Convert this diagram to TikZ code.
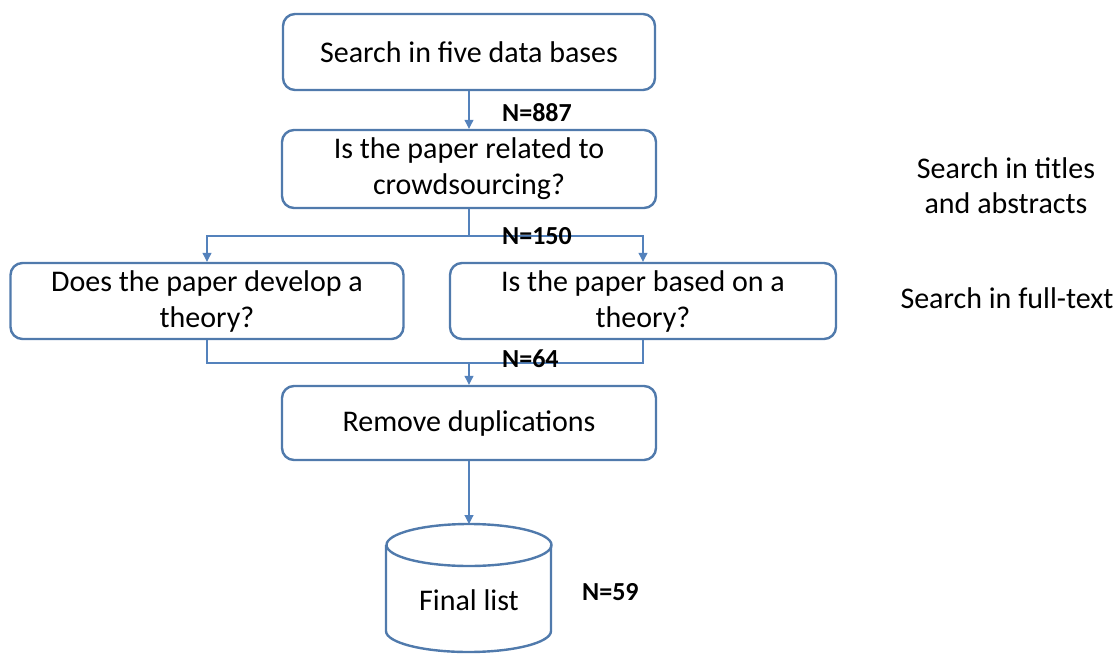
\documentclass[tikz,border=0pt]{standalone}
\usepackage{fontspec}
\setmainfont{Carlito}
\usetikzlibrary{arrows.meta}
\definecolor{boxline}{RGB}{80,122,172}
\definecolor{linkline}{RGB}{84,130,188}
\tikzset{
  x=1pt, y=-1pt,
  stepbox/.style={draw=boxline, line width=2.4pt, rounded corners=12pt,
    minimum height=76pt, align=center, inner sep=0pt,
    font=\fontsize{30}{36}\selectfont},
  link/.style={draw=linkline, line width=1.1pt},
  linkarrow/.style={link, -{Triangle[width=9pt,length=9pt]}},
  count/.style={anchor=base west, inner sep=0pt, font=\fontsize{26}{30}\selectfont\bfseries},
  sidenote/.style={align=center, inner sep=0pt, font=\fontsize{30}{35}\selectfont}
}
\begin{document}
\begin{tikzpicture}
\useasboundingbox (0,0) rectangle (1119,656);

% process steps
\node[stepbox, minimum width=372pt] (b1) at (469,52) {Search in five data bases};
\node[stepbox, minimum width=374pt, minimum height=78pt] (b2) at (469,169) {Is the paper related to\\crowdsourcing?};
\node[stepbox, minimum width=393pt] (b3) at (207,301) {Does the paper develop a\\theory?};
\node[stepbox, minimum width=386pt] (b4) at (643,301) {Is the paper based on a\\theory?};
\node[stepbox, minimum width=374pt, minimum height=74pt] (b5) at (469,423) {Remove duplications};

% final list drawn as a database cylinder
\coordinate (fintop) at (469,524);
\draw[boxline, line width=2.4pt, fill=white]
  (386,545) -- (386,631) arc[start angle=180, end angle=360, x radius=82.5pt, y radius=21pt]
  -- (551,545);
\draw[boxline, line width=2.4pt] (469,545) ellipse[x radius=82.5pt, y radius=21pt];
\node[font=\fontsize{30}{36}\selectfont] (fin) at (469,600) {Final list};

% connectors
\coordinate (split) at (469,236);
\coordinate (merge) at (469,363);
\draw[linkarrow] (b1.south) -- (b2.north);
\draw[link] (b2.south) -- (split);
\draw[linkarrow] (split) -| (b3.north);
\draw[linkarrow] (split) -| (b4.north);
\draw[link] (b3.south) |- (merge);
\draw[link] (b4.south) |- (merge);
\draw[linkarrow] (merge) -- (b5.north);
\draw[linkarrow] (b5.south) -- (fintop);

% counts
\node[count] (n887) at (502,121) {N=887};
\node[count] (n150) at (502,244) {N=150};
\node[count] (n64) at (502,367) {N=64};
\node[count] (n59) at (582,600) {N=59};

% search scope notes
\node[sidenote] (s1) at (1006,186) {Search in titles\\and abstracts};
\node[sidenote] (s2) at (1007,298) {Search in full-text};
\end{tikzpicture}
\end{document}
